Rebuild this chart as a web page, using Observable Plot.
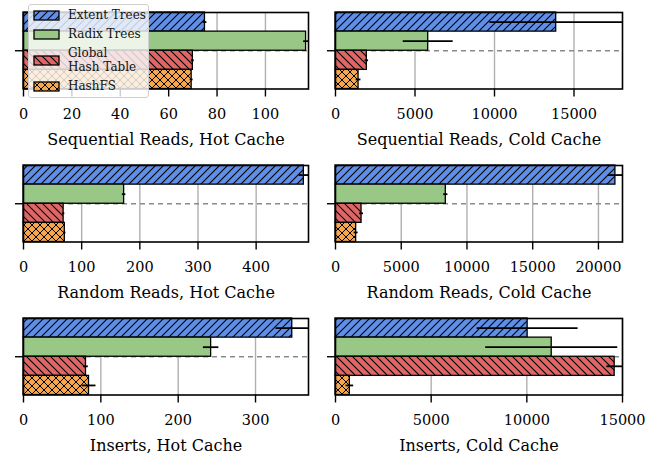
<!DOCTYPE html>
<html>
<head>
<meta charset="utf-8">
<script src="https://cdn.jsdelivr.net/npm/d3@7"></script>
<script src="https://cdn.jsdelivr.net/npm/@observablehq/plot@0.6"></script>
<style>
  html, body { margin: 0; padding: 0; background: #fff; }
  #root { position: relative; width: 657px; height: 456px; font-family: "DejaVu Serif", serif; }
  .panel { position: absolute; }
  .legend { position: absolute; left: 28px; top: 4px; width: 121px; height: 94px;
    background: rgba(255,255,255,0.8); border: 1px solid #cfcfcf; border-radius: 3px;
    font-family: "DejaVu Serif", serif; font-size: 12px; color: #111; z-index: 5; box-sizing: border-box; }
  .legend .row { position: absolute; left: 4px; display: flex; align-items: center; }
  .legend .row svg { margin-right: 8px; }
  .legend .lbl { line-height: 14px; white-space: nowrap; }
</style>
</head>
<body>
<svg width="0" height="0" style="position:absolute">
  <defs>
    <pattern id="p-ext" patternUnits="userSpaceOnUse" width="8" height="8">
      <rect width="8" height="8" fill="#5f8fe8"/>
      <path d="M-2,2 l4,-4 M0,8 l8,-8 M6,10 l4,-4" stroke="#000" stroke-width="1.1"/>
    </pattern>
    <pattern id="p-radix" patternUnits="userSpaceOnUse" width="8" height="8">
      <rect width="8" height="8" fill="#99c886"/>
    </pattern>
    <pattern id="p-global" patternUnits="userSpaceOnUse" width="8" height="8">
      <rect width="8" height="8" fill="#e06666"/>
      <path d="M-2,6 l4,4 M0,0 l8,8 M6,-2 l4,4" stroke="#000" stroke-width="1.1"/>
    </pattern>
    <pattern id="p-hashfs" patternUnits="userSpaceOnUse" width="8" height="8">
      <rect width="8" height="8" fill="#f6a64c"/>
      <path d="M-2,2 l4,-4 M0,8 l8,-8 M6,10 l4,-4 M-2,6 l4,4 M0,0 l8,8 M6,-2 l4,4" stroke="#000" stroke-width="1"/>
    </pattern>
  </defs>
</svg>
<div id="root"></div>
<script>
// Series (top to bottom within each panel)
const series = ["Extent Trees", "Radix Trees", "Global\nHash Table", "HashFS"];
const seriesFill = ["url(#p-ext)", "url(#p-radix)", "url(#p-global)", "url(#p-hashfs)"];

// Panel titles (x-axis labels)
const titles = [
  "Sequential Reads, Hot Cache", "Sequential Reads, Cold Cache",
  "Random Reads, Hot Cache", "Random Reads, Cold Cache",
  "Inserts, Hot Cache", "Inserts, Cold Cache"
];

// Values per panel: [Extent Trees, Radix Trees, Global Hash Table, HashFS]
const seqHot   = [75, 116.8, 70, 69.5];
const seqHotErr = [0.8, 1.0, 0.6, 0.6];
const seqCold  = [13880, 5830, 1970, 1450];
const seqColdErr = [4170, 1570, 110, 150];
const randHot  = [482, 173, 69, 71];
const randHotErr = [8, 3, 2, 2];
const randCold = [21290, 8390, 1980, 1570];
const randColdErr = [540, 160, 150, 150];
const insHot   = [347.5, 242.6, 80.8, 84.7];
const insHotErr = [21, 10, 3, 9];
const insCold  = [10040, 11300, 14590, 750];
const insColdErr = [2640, 3450, 410, 200];

// Tick labels per panel
const ticks1 = [0, 20, 40, 60, 80, 100];
const ticks2 = [0, 5000, 10000, 15000];
const ticks3 = [0, 100, 200, 300, 400];
const ticks4 = [0, 5000, 10000, 15000, 20000];
const ticks5 = [0, 100, 200, 300];
const ticks6 = [0, 5000, 10000, 15000];

const panels = [
  {vals: seqHot, errs: seqHotErr, ticks: ticks1},
  {vals: seqCold, errs: seqColdErr, ticks: ticks2},
  {vals: randHot, errs: randHotErr, ticks: ticks3},
  {vals: randCold, errs: randColdErr, ticks: ticks4},
  {vals: insHot, errs: insHotErr, ticks: ticks5},
  {vals: insCold, errs: insColdErr, ticks: ticks6}
];

const root = document.getElementById("root");
const rowTop = [0, 153, 306];
const rowH = [153, 153, 150];

panels.forEach((p, idx) => {
  const col = idx % 2, row = Math.floor(idx / 2);
  const data = series.map((s, i) => ({s, i, v: p.vals[i], e: p.errs[i], fill: seriesFill[i]}));
  const xmax = d3.max(data, d => d.v + d.e);
  const left = col === 0 ? 0 : 326;
  const width = col === 0 ? 328 : 331;
  const ml = col === 0 ? 23 : 9;
  const mr = col === 0 ? 20 : 35;
  const mt = 12;
  const mb = rowH[row] - mt - 76.5;
  const tks = p.ticks.filter(t => t <= xmax);
  const chart = Plot.plot({
    width, height: rowH[row],
    marginLeft: ml, marginRight: mr, marginTop: mt, marginBottom: mb,
    style: {fontFamily: "DejaVu Serif", fontSize: "14.5px", color: "#000", background: "transparent", overflow: "visible"},
    x: {domain: [0, xmax]},
    y: {domain: [0, 4], reverse: true},
    marks: [
      Plot.ruleX(tks, {stroke: "#b0b0b0", strokeWidth: 1.4}),
      Plot.ruleY([2], {stroke: "#8a8a8a", strokeWidth: 1.4, strokeDasharray: "5,4"}),
      ...data.map(d => Plot.rectX([d], {y1: "i", y2: a => a.i + 1, x1: 0, x2: "v", fill: d.fill, stroke: "#000", strokeWidth: 1.3})),
      Plot.ruleY(data, {y: a => a.i + 0.5, x1: a => a.v - a.e, x2: a => a.v + a.e, stroke: "#000", strokeWidth: 1.8}),
      Plot.frame({stroke: "#000", strokeWidth: 1.6}),
      Plot.axisX({ticks: tks, tickSize: 8, tickPadding: 12, strokeWidth: 1.4, label: null, tickFormat: d => String(d), fill: "#000"}),
      Plot.axisY({ticks: [2], tickSize: 8, tickFormat: () => "", strokeWidth: 1.4, label: null}),
      Plot.text([titles[idx]], {frameAnchor: "bottom", dy: 51, fontSize: 16, fill: "#000", lineAnchor: "middle"})
    ]
  });
  chart.classList.add("panel");
  chart.style.left = left + "px";
  chart.style.top = rowTop[row] + "px";
  root.appendChild(chart);
});

// Legend
const legend = document.createElement("div");
legend.className = "legend";
const rowY = [10, 29, 55, 81];
series.forEach((s, i) => {
  const r = document.createElement("div");
  r.className = "row";
  r.style.top = (rowY[i] - (i === 2 ? 14 : 7)) + "px";
  const sw = document.createElementNS("http://www.w3.org/2000/svg", "svg");
  sw.setAttribute("width", 27); sw.setAttribute("height", 11);
  const rect = document.createElementNS("http://www.w3.org/2000/svg", "rect");
  rect.setAttribute("x", 1); rect.setAttribute("y", 1); rect.setAttribute("width", 25); rect.setAttribute("height", 9);
  rect.setAttribute("fill", seriesFill[i]); rect.setAttribute("stroke", "#000"); rect.setAttribute("stroke-width", 1.3);
  sw.appendChild(rect);
  r.appendChild(sw);
  const lbl = document.createElement("div");
  lbl.className = "lbl";
  lbl.innerHTML = s.split("\n").join("<br>");
  r.appendChild(lbl);
  legend.appendChild(r);
});
root.appendChild(legend);
</script>
</body>
</html>
